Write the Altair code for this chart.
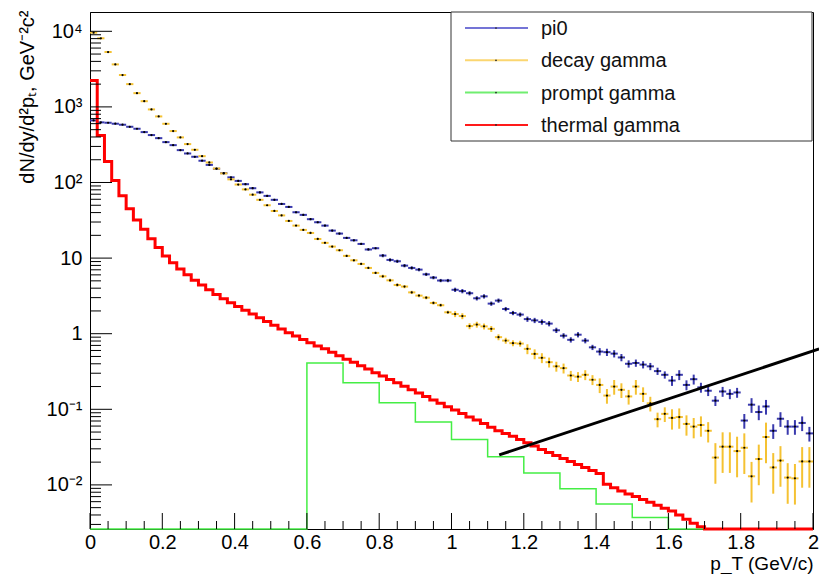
import altair as alt
import pandas as pd

FONT = "Liberation Sans"

# ---------------- data ----------------
NBIN = 100
BINW = 0.02
bin_lo = [round(BINW * i, 2) for i in range(NBIN)]

pi0_vals = [
    662, 624, 617, 599, 581, 546, 514, 464, 424, 386,
    342, 312, 268, 242, 219, 194, 171, 152, 133, 117,
    105, 95, 84, 74, 66.5, 59, 52, 47.5, 40.4, 37.3,
    32.7, 29.8, 26.9, 23.1, 21.1, 18.5, 17.2, 15.4, 13.0, 13.5,
    10.8, 9.46, 9.08, 7.95, 7.41, 7.04, 6.1, 5.52, 5.05, 5.05,
    3.81, 3.66, 3.43, 2.94, 3.12, 2.5, 2.74, 2.12, 1.88, 1.79,
    1.56, 1.5, 1.43, 1.36, 1.11, 0.94, 0.83, 0.97, 0.81, 0.66,
    0.58, 0.57, 0.545, 0.485, 0.40, 0.41, 0.39, 0.37, 0.32, 0.286,
    0.24, 0.286, 0.21, 0.25, 0.195, 0.176, 0.13, 0.172, 0.16, 0.167,
    0.071, 0.115, 0.092, 0.109, 0.052, 0.075, 0.059, 0.059, 0.066, 0.048,
]
pi0_rel = [0.01] * 20 + [0.03] * 20 + [0.05] * 10 + [0.065] * 10 + [0.08] * 10 + [0.11] * 10 + [0.15] * 10 + [0.22] * 10

decay_vals = [
    9600, 8080, 5320, 3650, 2640, 2000, 1520, 1190, 926, 748,
    598, 479, 395, 322, 271, 223, 184, 153, 132, 110,
    94, 81, 69, 59, 50, 42, 36.7, 31, 26.9, 23.6,
    21.5, 17.9, 15.9, 14.2, 12.7, 10.7, 9.35, 8.37, 7.41, 6.37,
    5.74, 5.08, 4.41, 4.2, 3.52, 3.19, 3.0, 2.55, 2.38, 1.92,
    1.82, 1.71, 1.26, 1.32, 1.25, 1.16, 0.90, 0.81, 0.75, 0.74,
    0.63, 0.54, 0.48, 0.42, 0.37, 0.35, 0.28, 0.27, 0.286, 0.246,
    0.21, 0.152, 0.20, 0.181, 0.148, 0.20, 0.16, 0.12, 0.074, 0.087,
    0.077, 0.079, 0.064, 0.059, 0.062, 0.052, 0.023, 0.032, 0.032, 0.028,
    0.031, 0.013, 0.022, 0.043, 0.017, 0.021, 0.0125, 0.0122, 0.0204, 0.0204,
]
decay_rel = [0.01] * 20 + [0.02] * 10 + [0.035] * 10 + [0.05] * 10 + [0.09] * 10 + [0.15] * 10 + [0.22] * 10 + [0.3] * 6 + [0.55] * 14

thermal_vals = [
    2240, 420, 190, 106, 67, 45, 32, 24, 18, 13.8,
    10.7, 8.7, 7.2, 6.0, 5.1, 4.4, 3.8, 3.3, 2.9, 2.57,
    2.29, 2.04, 1.82, 1.62, 1.45, 1.29, 1.15, 1.03, 0.93, 0.84,
    0.76, 0.69, 0.63, 0.57, 0.51, 0.46, 0.42, 0.376, 0.34, 0.305,
    0.275, 0.248, 0.224, 0.202, 0.182, 0.164, 0.148, 0.133, 0.12, 0.108,
    0.098, 0.088, 0.079, 0.072, 0.065, 0.058, 0.052, 0.048, 0.044, 0.040,
    0.036, 0.0327, 0.0295, 0.0269, 0.0245, 0.0224, 0.0204, 0.0186, 0.017, 0.0155,
    0.0141, 0.0102, 0.0092, 0.0083, 0.0076, 0.0070, 0.0064, 0.0059, 0.0054, 0.0049,
    0.0045, 0.0040, 0.0035, 0.0031, 0.0028, 0, 0, 0, 0, 0,
    0, 0, 0, 0, 0, 0, 0, 0, 0, 0,
]

prompt_lo = [0.0, 0.1, 0.2, 0.3, 0.4, 0.5, 0.6, 0.7, 0.8, 0.9,
             1.0, 1.1, 1.2, 1.3, 1.4, 1.5, 1.6, 1.7, 1.8, 1.9]
prompt_vals = [0, 0, 0, 0, 0, 0, 0.41, 0.224, 0.122, 0.068,
               0.040, 0.0235, 0.0144, 0.0089, 0.0056, 0.0037, 0, 0, 0, 0]

line_x = [1.132, 2.017]
line_y = [0.0249, 0.628]

series_names = ["pi0", "decay gamma", "prompt gamma", "thermal gamma"]
series_colors = ["#3a3aae", "#f5c232", "#44ee44", "#ff0000"]
legend_colors = ["#7474d6", "#fbd670", "#70ee70", "#ff1a1a"]

x_major = [0, 0.2, 0.4, 0.6, 0.8, 1.0, 1.2, 1.4, 1.6, 1.8, 2.0]
x_minor = [0.05, 0.1, 0.15, 0.25, 0.3, 0.35, 0.45, 0.5, 0.55, 0.65, 0.7, 0.75,
           0.85, 0.9, 0.95, 1.05, 1.1, 1.15, 1.25, 1.3, 1.35, 1.45, 1.5, 1.55,
           1.65, 1.7, 1.75, 1.85, 1.9, 1.95]
y_major = [0.01, 0.1, 1, 10, 100, 1000, 10000]
y_major_labels = ["10⁻²", "10⁻¹", "1", "10", "10²", "10³", "10⁴"]
y_minor = [0.003, 0.004, 0.005, 0.006, 0.007, 0.008, 0.009,
           0.02, 0.03, 0.04, 0.05, 0.06, 0.07, 0.08, 0.09,
           0.2, 0.3, 0.4, 0.5, 0.6, 0.7, 0.8, 0.9,
           2, 3, 4, 5, 6, 7, 8, 9,
           20, 30, 40, 50, 60, 70, 80, 90,
           200, 300, 400, 500, 600, 700, 800, 900,
           2000, 3000, 4000, 5000, 6000, 7000, 8000, 9000]

Y_MIN = 0.00261
Y_MAX = 18000

W, H = 723, 517

# ---------------- tables ----------------
rows = []
for name, vals, rel in [("pi0", pi0_vals, pi0_rel), ("decay gamma", decay_vals, decay_rel)]:
    for lo, v, r in zip(bin_lo, vals, rel):
        rows.append({"s": name, "x": lo + BINW / 2, "x0": lo, "x1": lo + BINW,
                     "v": v, "elo": v * (1 - r), "ehi": v * (1 + r)})
pts = pd.DataFrame(rows)

therm = pd.DataFrame({"x": bin_lo + [2.0], "v": thermal_vals + [thermal_vals[-1]]})
prompt = pd.DataFrame({"x": prompt_lo + [2.0], "v": prompt_vals + [prompt_vals[-1]]})
bline = pd.DataFrame({"x": line_x, "v": line_y})

xscale = alt.Scale(domain=[0, 2], nice=False, zero=False)
yscale = alt.Scale(type="log", domain=[Y_MIN, Y_MAX], nice=False)
cscale = alt.Scale(domain=series_names, range=series_colors)

ylabel_expr = "[" + ",".join("'%s'" % s for s in y_major_labels) + "][indexof([" + \
    ",".join(str(v) for v in y_major) + "], datum.value)]"

x_axis = alt.Axis(values=x_major, format="~g", ticks=False, grid=False,
                  labelPadding=3, labelOverlap=False, labelFlush=False,
                  title="p_T (GeV/c)", titleAlign="right", titleBaseline="alphabetic",
                  titleFontSize=19, titleX=W, titleY=40)
y_axis = alt.Axis(values=y_major, labelExpr=ylabel_expr, ticks=False, grid=False,
                  labelPadding=8, labelOverlap=False, labelFlush=False,
                  title="dN/dy/d²pₜ, GeV⁻²c²", titleAngle=270,
                  titleAlign="right", titleBaseline="alphabetic",
                  titleX=-57, titleY=-2)

# carrier layer for both axes (first layer: its explicit axis settings win)
axes_layer = alt.Chart(therm).mark_point(opacity=0).encode(
    x=alt.X("x:Q", scale=xscale, axis=x_axis),
    y=alt.Y("v:Q", scale=yscale, axis=y_axis),
)

base_pts = alt.Chart(pts)

hbars = base_pts.mark_rule(strokeWidth=2).encode(
    x=alt.X("x0:Q", scale=xscale),
    x2="x1:Q",
    y=alt.Y("v:Q", scale=yscale),
    color=alt.Color("s:N", scale=cscale, legend=None),
)
ebars = base_pts.mark_rule(strokeWidth=2, clip=True).encode(
    x=alt.X("x:Q", scale=xscale),
    y=alt.Y("elo:Q", scale=yscale),
    y2="ehi:Q",
    color=alt.Color("s:N", scale=cscale, legend=None),
)
dots = base_pts.mark_circle(size=5, color="black", opacity=1).encode(
    x=alt.X("x:Q", scale=xscale),
    y=alt.Y("v:Q", scale=yscale),
)

prompt_line = alt.Chart(prompt).transform_calculate(
    vp="max(datum.v, %g)" % Y_MIN
).mark_line(interpolate="step-after", color=series_colors[2], strokeWidth=1.5).encode(
    x=alt.X("x:Q", scale=xscale),
    y=alt.Y("vp:Q", scale=yscale),
)
therm_line = alt.Chart(therm).transform_calculate(
    vp="max(datum.v, %g)" % Y_MIN
).mark_line(interpolate="step-after", color=series_colors[3], strokeWidth=3).encode(
    x=alt.X("x:Q", scale=xscale),
    y=alt.Y("vp:Q", scale=yscale),
)
black_line = alt.Chart(bline).mark_line(color="black", strokeWidth=3, clip=False).encode(
    x=alt.X("x:Q", scale=xscale),
    y=alt.Y("v:Q", scale=yscale),
)

# inward ticks (ROOT style)
yM = alt.Chart(pd.DataFrame({"t": y_major})).mark_rule(color="black", strokeWidth=1).encode(
    y=alt.Y("t:Q", scale=yscale), x=alt.value(0), x2=alt.value(22))
ym = alt.Chart(pd.DataFrame({"t": y_minor})).mark_rule(color="black", strokeWidth=1).encode(
    y=alt.Y("t:Q", scale=yscale), x=alt.value(0), x2=alt.value(11))
xM = alt.Chart(pd.DataFrame({"t": x_major})).mark_rule(color="black", strokeWidth=1).encode(
    x=alt.X("t:Q", scale=xscale), y=alt.value(H), y2=alt.value(H - 16))
xm = alt.Chart(pd.DataFrame({"t": x_minor})).mark_rule(color="black", strokeWidth=1).encode(
    x=alt.X("t:Q", scale=xscale), y=alt.value(H), y2=alt.value(H - 8))

# legend box (ROOT TLegend look)
one = pd.DataFrame({"k": [0]})
leg_layers = [
    alt.Chart(one).mark_rect(fill="white", stroke="#333333", strokeWidth=1).encode(
        x=alt.value(361), x2=alt.value(722), y=alt.value(0), y2=alt.value(129))
]
for k, (name, col) in enumerate(zip(series_names, legend_colors)):
    yy = 16 + 32.3 * k
    leg_layers.append(alt.Chart(one).mark_rule(color=col, strokeWidth=2).encode(
        x=alt.value(375), x2=alt.value(438), y=alt.value(yy)))
    leg_layers.append(alt.Chart(one).mark_circle(size=3, color="#222222", opacity=1).encode(
        x=alt.value(406), y=alt.value(yy)))
    leg_layers.append(alt.Chart(one).mark_text(align="left", baseline="middle", font=FONT,
                                               fontSize=20, color="#111111").encode(
        x=alt.value(451), y=alt.value(yy + 1), text=alt.value(name)))

chart = alt.layer(
    axes_layer, hbars, ebars, dots, prompt_line, therm_line, yM, ym, xM, xm, black_line, *leg_layers
).properties(
    width=W, height=H,
    padding={"left": 90, "top": 12, "right": 6, "bottom": 45},
    autosize=alt.AutoSizeParams(type="none"),
    background="white",
).configure_view(
    stroke="black", strokeWidth=1
).configure_axis(
    labelFont=FONT, labelFontSize=20, labelColor="black",
    titleFont=FONT, titleFontSize=20, titleFontWeight="normal", titleColor="black",
    domainColor="black", grid=False, ticks=False,
)

chart.save("out.html", embed_options={"renderer": "svg", "actions": False})
